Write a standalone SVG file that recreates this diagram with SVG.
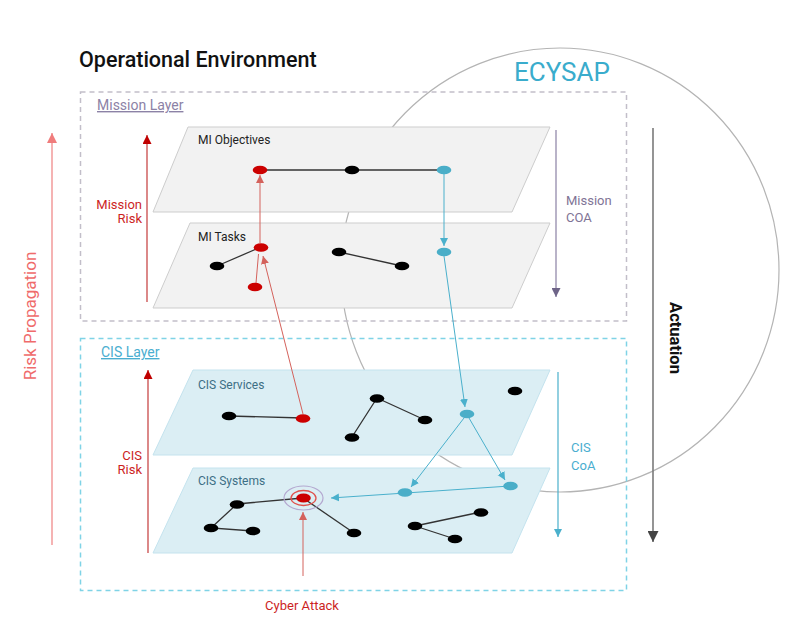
<svg xmlns="http://www.w3.org/2000/svg" width="808" height="632" viewBox="0 0 808 632">
<style>
text{font-family:Roboto,"Liberation Sans",sans-serif}
.pm{fill:#f2f2f2;stroke:#cdcdcd;stroke-width:1}
.pc{fill:#dbeef4;stroke:#c4e3ee;stroke-width:1}
.nb{fill:#000}
.nr{fill:#cc0000}
.nl{fill:#4aaec8}
.e{stroke:#333;stroke-width:1.3;fill:none}
.pl{font-size:12px;fill:#222}
.cl{font-size:12px;fill:#3d6f85}
.ar{stroke:#d4625c;stroke-width:1;fill:none}
.ab{stroke:#4ab0cc;stroke-width:1;fill:none}
</style>
<defs>
<marker id="mR" viewBox="0 0 10 10" refX="10" refY="5" markerWidth="8" markerHeight="9" markerUnits="userSpaceOnUse" orient="auto"><path d="M0,0L10,5L0,10z" fill="#d4625c"/></marker>
<marker id="mD" viewBox="0 0 10 10" refX="10" refY="5" markerWidth="9" markerHeight="9" markerUnits="userSpaceOnUse" orient="auto"><path d="M0,0L10,5L0,10z" fill="#c00000"/></marker>
<marker id="mP" viewBox="0 0 10 10" refX="10" refY="5" markerWidth="10" markerHeight="10" markerUnits="userSpaceOnUse" orient="auto"><path d="M0,0L10,5L0,10z" fill="#f07c7c"/></marker>
<marker id="mB" viewBox="0 0 10 10" refX="10" refY="5" markerWidth="8" markerHeight="9" markerUnits="userSpaceOnUse" orient="auto"><path d="M0,0L10,5L0,10z" fill="#4ab0cc"/></marker>
<marker id="mU" viewBox="0 0 10 10" refX="10" refY="5" markerWidth="9" markerHeight="9" markerUnits="userSpaceOnUse" orient="auto"><path d="M0,0L10,5L0,10z" fill="#6e6488"/></marker>
<marker id="mG" viewBox="0 0 10 10" refX="10" refY="5" markerWidth="11" markerHeight="11" markerUnits="userSpaceOnUse" orient="auto"><path d="M0,0L10,5L0,10z" fill="#444"/></marker>
</defs>
<rect width="808" height="632" fill="#fff"/>

<g id="ecysap">
<ellipse cx="560" cy="270" rx="219" ry="222" fill="none" stroke="#b4b4b4" stroke-width="1.2"/>
<text x="514" y="81" font-size="26" fill="#3aaccc">ECYSAP</text>
</g>

<text x="79" y="67" font-size="21.5" font-weight="500" fill="#111">Operational Environment</text>

<g id="mission-layer">
<rect x="80.5" y="92" width="546" height="229" fill="none" stroke="#c2bec9" stroke-width="1.5" stroke-dasharray="5,4"/>
<text x="97" y="110" font-size="14" fill="#8c82a6" text-decoration="underline">Mission Layer</text>
</g>
<g id="cis-layer">
<rect x="80.5" y="338.5" width="546" height="252" fill="none" stroke="#7fd3e6" stroke-width="1.5" stroke-dasharray="5,4"/>
<text x="101" y="357" font-size="14" fill="#4aaed0" text-decoration="underline">CIS Layer</text>
</g>

<g id="plane-mi-objectives">
<polygon class="pm" points="188,127 550,127 512,212 153,212"/>
<text class="pl" x="198" y="144">MI Objectives</text>
</g>
<g id="plane-mi-tasks">
<polygon class="pm" points="190,223 550,223 512,308 153,308"/>
<text class="pl" x="198" y="241">MI Tasks</text>
</g>
<g id="plane-cis-services">
<polygon class="pc" points="193,370 550,370 512,455 153,455"/>
<text class="cl" x="198" y="389">CIS Services</text>
</g>
<g id="plane-cis-systems">
<polygon class="pc" points="193,468 550,468 512,553 153,553"/>
<text class="cl" x="198" y="485">CIS Systems</text>
</g>

<g id="edges">
<path class="e" d="M260,170L444,170"/>
<path class="e" d="M217,266L261,247"/>
<path class="e" d="M339,252L402,266"/>
<path class="e" d="M229,416L303,418"/>
<path class="e" d="M352,437L377,398L425,420"/>
<path class="e" d="M303,498L237,504L211,528L253,531"/>
<path class="e" d="M303,498L354,533"/>
<path class="e" d="M481,512L415,526L455,539"/>
</g>

<g id="connectors">
<path class="ar" d="M260,243L260,175" marker-end="url(#mR)"/>
<path class="ar" d="M303,414L263,256" marker-end="url(#mR)"/>
<path class="ar" d="M256,283L258.5,254"/>
<path class="ar" d="M303,576L303,512" marker-end="url(#mR)"/>
<path class="ab" d="M444,174L444,246" marker-end="url(#mB)"/>
<path class="ab" d="M444,256L465,407" marker-end="url(#mB)"/>
<path class="ab" d="M464,418L411,487" marker-end="url(#mB)"/>
<path class="ab" d="M469,418L505,480" marker-end="url(#mB)"/>
<path class="ab" d="M510,486L331,498" marker-end="url(#mB)"/>
</g>

<g id="nodes">
<ellipse class="nr" cx="260" cy="170" rx="7.3" ry="4.3"/>
<ellipse class="nb" cx="352" cy="170" rx="7.3" ry="4.3"/>
<ellipse class="nl" cx="444" cy="170" rx="7.3" ry="4.3"/>
<ellipse class="nr" cx="261" cy="247.5" rx="7.3" ry="4.3"/>
<ellipse class="nb" cx="217" cy="266" rx="7.3" ry="4.3"/>
<ellipse class="nr" cx="255" cy="287" rx="7.3" ry="4.3"/>
<ellipse class="nb" cx="339" cy="252" rx="7.3" ry="4.3"/>
<ellipse class="nb" cx="402" cy="266" rx="7.3" ry="4.3"/>
<ellipse class="nl" cx="444" cy="252" rx="7.3" ry="4.3"/>
<ellipse class="nb" cx="229" cy="416" rx="7.3" ry="4.3"/>
<ellipse class="nr" cx="303" cy="418.5" rx="7.3" ry="4.3"/>
<ellipse class="nb" cx="377" cy="398.5" rx="7.3" ry="4.3"/>
<ellipse class="nb" cx="352" cy="437.5" rx="7.3" ry="4.3"/>
<ellipse class="nb" cx="425" cy="420" rx="7.3" ry="4.3"/>
<ellipse class="nl" cx="467" cy="414" rx="7.3" ry="4.3"/>
<ellipse class="nb" cx="515" cy="391" rx="7.3" ry="4.3"/>
<ellipse fill="none" stroke="#b4a8d0" stroke-width="1.2" cx="303.5" cy="498" rx="19.5" ry="12"/>
<ellipse fill="none" stroke="#e0504c" stroke-width="1.3" cx="303.5" cy="498" rx="12.5" ry="7.5"/>
<ellipse class="nr" cx="303.5" cy="498" rx="7.3" ry="4.6"/>
<ellipse class="nb" cx="237" cy="504.5" rx="7.3" ry="4.3"/>
<ellipse class="nb" cx="211" cy="528" rx="7.3" ry="4.3"/>
<ellipse class="nb" cx="253" cy="531" rx="7.3" ry="4.3"/>
<ellipse class="nb" cx="354" cy="533" rx="7.3" ry="4.3"/>
<ellipse class="nb" cx="415" cy="526" rx="7.3" ry="4.3"/>
<ellipse class="nb" cx="481" cy="512.5" rx="7.3" ry="4.3"/>
<ellipse class="nb" cx="455" cy="539" rx="7.3" ry="4.3"/>
<ellipse class="nl" cx="405" cy="492.5" rx="7.3" ry="4.3"/>
<ellipse class="nl" cx="510.5" cy="486" rx="7.3" ry="4.3"/>
</g>

<g id="side-arrows">
<path d="M52,545L52,133" stroke="#f08a8a" stroke-width="1.3" fill="none" marker-end="url(#mP)"/>
<path d="M147,302L147,135" stroke="#c43a3a" stroke-width="1.2" fill="none" marker-end="url(#mD)"/>
<path d="M148,553L148,370" stroke="#c43a3a" stroke-width="1.2" fill="none" marker-end="url(#mD)"/>
<path d="M556,130L556,297" stroke="#8a80a4" stroke-width="1.2" fill="none" marker-end="url(#mU)"/>
<path d="M558,372L558,537" stroke="#4ab0cc" stroke-width="1.2" fill="none" marker-end="url(#mB)"/>
<path d="M653,128L653,542" stroke="#7a7a7a" stroke-width="1.6" fill="none" marker-end="url(#mG)"/>
</g>

<g id="labels">
<text x="36" y="316" font-size="17" fill="#ef6b6b" text-anchor="middle" transform="rotate(-90 36 316)">Risk Propagation</text>
<text font-size="13" fill="#cc1f1f" text-anchor="end"><tspan x="142" y="209">Mission</tspan><tspan x="142" y="223">Risk</tspan></text>
<text font-size="13" fill="#cc1f1f" text-anchor="end"><tspan x="142" y="460">CIS</tspan><tspan x="142" y="474">Risk</tspan></text>
<text font-size="13" fill="#7f7496"><tspan x="566" y="205">Mission</tspan><tspan x="566" y="222">COA</tspan></text>
<text font-size="13" fill="#4aaed0"><tspan x="571" y="452">CIS</tspan><tspan x="571" y="469.5">CoA</tspan></text>
<text x="670" y="338" font-size="16.5" font-weight="bold" fill="#111" text-anchor="middle" font-family="'Liberation Sans',Arial,sans-serif" transform="rotate(90 670 338)">Actuation</text>
<text x="302" y="610" font-size="13" fill="#cc1f1f" text-anchor="middle">Cyber Attack</text>
</g>
</svg>
